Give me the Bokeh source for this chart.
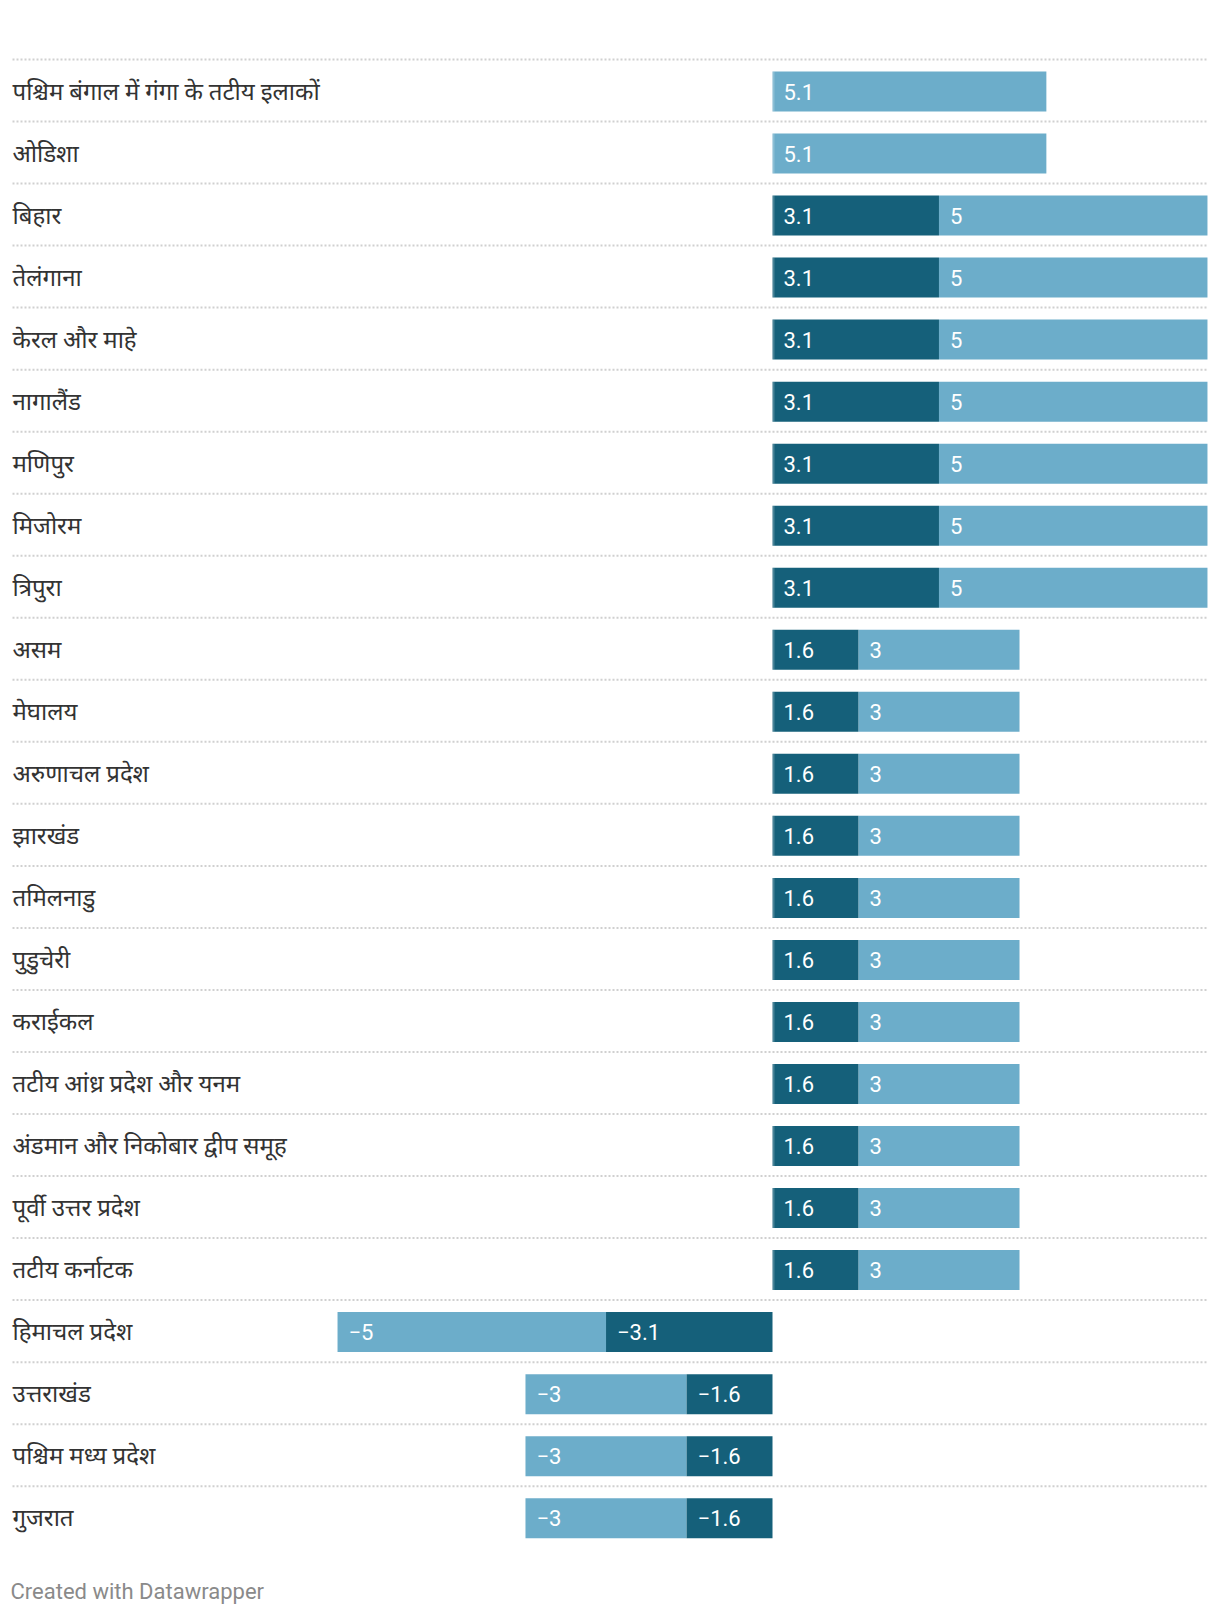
from bokeh.plotting import figure
from bokeh.models import Range1d
from bokeh.core.properties import value
from bokeh.embed import file_html
from bokeh.resources import INLINE

# ---------------- data ----------------
categories = [
    "पश्चिम बंगाल में गंगा के तटीय इलाकों",
    "ओडिशा",
    "बिहार",
    "तेलंगाना",
    "केरल और माहे",
    "नागालैंड",
    "मणिपुर",
    "मिजोरम",
    "त्रिपुरा",
    "असम",
    "मेघालय",
    "अरुणाचल प्रदेश",
    "झारखंड",
    "तमिलनाडु",
    "पुडुचेरी",
    "कराईकल",
    "तटीय आंध्र प्रदेश और यनम",
    "अंडमान और निकोबार द्वीप समूह",
    "पूर्वी उत्तर प्रदेश",
    "तटीय कर्नाटक",
    "हिमाचल प्रदेश",
    "उत्तराखंड",
    "पश्चिम मध्य प्रदेश",
    "गुजरात",
]
dark_values = [0, 0, 3.1, 3.1, 3.1, 3.1, 3.1, 3.1, 3.1,
               1.6, 1.6, 1.6, 1.6, 1.6, 1.6, 1.6, 1.6, 1.6, 1.6, 1.6,
               -3.1, -1.6, -1.6, -1.6]
light_values = [5.1, 5.1, 5, 5, 5, 5, 5, 5, 5,
                3, 3, 3, 3, 3, 3, 3, 3, 3, 3, 3,
                -5, -3, -3, -3]
footer_text = "Created with Datawrapper"

# ---------------- layout constants ----------------
W, H = 1220, 1614
SCALE = 53.7          # px per unit
ZERO_PX = 772.0       # zero position in figure px
ROW_PX = 62.03        # row pitch
FIRST_CENTER_PX = 91.0  # first bar centre in figure px
BAR_PX = 40.0

X0 = -ZERO_PX / SCALE
X1 = X0 + W / SCALE
Y_TOP = -FIRST_CENTER_PX / ROW_PX
Y_BOT = Y_TOP + H / ROW_PX

DARK = "#15607a"
LIGHT = "#6cadca"

p = figure(width=W, height=H, output_backend="svg", toolbar_location=None,
           x_range=Range1d(X0, X1), y_range=Range1d(Y_BOT, Y_TOP),
           min_border=0, min_border_left=0, min_border_right=0,
           min_border_top=0, min_border_bottom=0)
p.axis.visible = False
p.grid.visible = False
p.outline_line_color = None
p.background_fill_color = "white"
p.border_fill_color = "white"

n = len(categories)
rows = list(range(n))
bar_h = BAR_PX / ROW_PX

# separators
sep_left = X0 + 12 / SCALE
max_ext = max(abs(d + l) for d, l in zip(dark_values, light_values))
p.segment(x0=[sep_left] * n, x1=[max_ext] * n,
          y0=[r - 32 / ROW_PX for r in rows], y1=[r - 32 / ROW_PX for r in rows],
          line_color="#d0d0d0", line_width=2, line_dash="2 2")

# bars
dark_left = [min(0, d) for d in dark_values]
dark_right = [max(0, d) for d in dark_values]
light_left = [min(d, d + l) for d, l in zip(dark_values, light_values)]
light_right = [max(d, d + l) for d, l in zip(dark_values, light_values)]

p.hbar(y=rows, left=light_left, right=light_right, height=bar_h,
       fill_color=LIGHT, line_color=None)
p.hbar(y=rows, left=dark_left, right=dark_right, height=bar_h,
       fill_color=DARK, line_color=None)

# zero baseline strip on positive bars
pos_rows = [r for r in rows if light_values[r] > 0]
p.segment(x0=[1 / SCALE] * len(pos_rows), x1=[1 / SCALE] * len(pos_rows),
          y0=[r - bar_h / 2 for r in pos_rows], y1=[r + bar_h / 2 for r in pos_rows],
          line_color="white", line_alpha=0.22, line_width=2)


def fmt(v):
    s = ("%g" % abs(v))
    return ("\u2212" + s) if v < 0 else s

# value labels
lab_x, lab_y, lab_t = [], [], []
for r in rows:
    d, l = dark_values[r], light_values[r]
    if d != 0:
        lab_x.append(dark_left[r] if d > 0 else d)
        lab_y.append(r)
        lab_t.append(fmt(d))
    lab_x.append(d if l > 0 else d + l)
    lab_y.append(r)
    lab_t.append(fmt(l))
p.text(x=lab_x, y=lab_y, text=lab_t, x_offset=11, text_baseline="middle",
       text_align="left", text_color="white", text_font_size="22px",
       text_font=value("Roboto"))

# category labels
p.text(x=[X0] * n, y=rows, text=categories, x_offset=12, y_offset=0,
       text_baseline="middle", text_align="left", text_color="#333333",
       text_font_size="24px",
       text_font=value("Roboto, 'Noto Sans Devanagari', 'Noto Sans', sans-serif"))

# footer
p.text(x=[X0], y=[Y_TOP + 1591 / ROW_PX], text=[footer_text], x_offset=10,
       text_baseline="alphabetic", text_align="left", text_color="#8a8a8a",
       text_font_size="22px", text_font=value("Roboto"))

open("out.html", "w").write(file_html(p, INLINE))
